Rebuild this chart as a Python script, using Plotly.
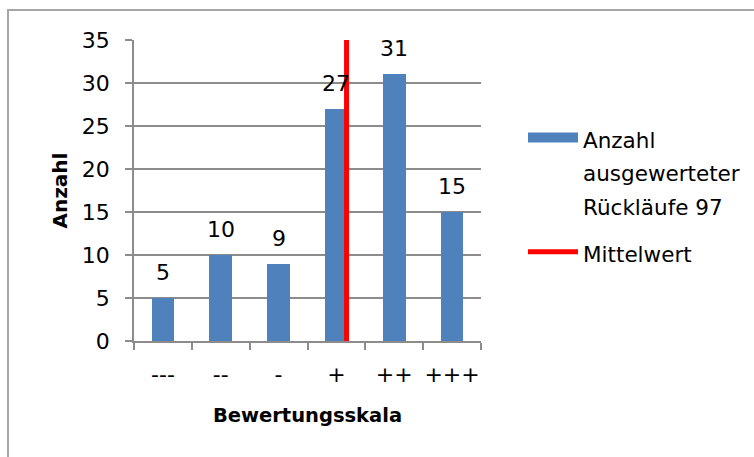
import plotly.graph_objects as go

# ---- data ----
categories = ["---", "--", "-", "+", "++", "+++"]
counts = [5, 10, 9, 27, 31, 15]
scale_values = [1, 2, 3, 4, 5, 6]          # numeric value of each rating
bar_lines = ["Anzahl", "ausgewerteter", "Rückläufe 97"]
mean_name = "Mittelwert"
y_ticks = [0, 5, 10, 15, 20, 25, 30, 35]

# mean of the ratings (weighted by number of returns), as index position
mean_rating = sum(c * v for c, v in zip(counts, scale_values)) / sum(counts)
mean_pos = mean_rating - scale_values[0]

positions = list(range(len(categories)))
boundaries = [p - 0.5 for p in positions] + [positions[-1] + 0.5]

FONT = "DejaVu Sans"
GRID = "#8c8c8c"
BLUE = "#4f81bd"
FS = 22
LEG_FS = 21.5

W, H = 754, 457
L, R, T, B = 134, 273, 40, 116
pw, ph = W - L - R, H - T - B

def px_to_paper_x(px):
    return (px - L) / pw

def px_to_paper_y(py):
    return (H - B - py) / ph

def leg_text(lines):
    return "<br>".join(f"<span style='font-size:{LEG_FS}px'>{t}</span>" for t in lines)

fig = go.Figure()

fig.add_trace(go.Bar(
    x=positions, y=counts, width=0.39,
    marker=dict(color=BLUE, line=dict(width=0)),
    showlegend=False, hoverinfo="skip",
))

# legend proxy for the bar series (wide blue patch)
fig.add_trace(go.Scatter(
    x=[None], y=[None], mode="lines",
    line=dict(color=BLUE, width=16),
    name=leg_text(bar_lines), legendgroup="bars",
))

fig.add_trace(go.Scatter(
    x=[mean_pos, mean_pos], y=[y_ticks[0], y_ticks[-1]], mode="lines",
    line=dict(color="#ff0000", width=5),
    name=leg_text([mean_name]), legendgroup="mean",
))

for p, c in zip(positions, counts):
    fig.add_annotation(
        x=p, y=c, text=str(c), showarrow=False,
        yanchor="bottom", yshift=11,
        font=dict(family=FONT, size=FS, color="#000000"),
    )

# outer chart frame
fig.add_shape(
    type="rect", xref="paper", yref="paper",
    x0=px_to_paper_x(8), x1=px_to_paper_x(770),
    y0=px_to_paper_y(470), y1=px_to_paper_y(10),
    line=dict(color="#a6a6a6", width=2), layer="below",
)

fig.update_layout(
    width=W, height=H,
    margin=dict(l=L, r=R, t=T, b=B, autoexpand=False),
    paper_bgcolor="white", plot_bgcolor="white",
    font=dict(family=FONT, size=FS, color="#000000"),
    bargap=0,
    legend=dict(
        x=px_to_paper_x(523), y=px_to_paper_y(114),
        xanchor="left", yanchor="top", valign="top",
        font=dict(family=FONT, size=26, color="#000000"),
        itemwidth=50, tracegroupgap=10,
        bgcolor="rgba(0,0,0,0)",
    ),
)

fig.update_xaxes(
    range=[boundaries[0], boundaries[-1]],
    tickmode="array", tickvals=positions, ticktext=categories,
    ticks="", showgrid=False, zeroline=False,
    showline=True, linecolor=GRID, linewidth=1.5,
    ticklabelstandoff=13,
    tickfont=dict(family=FONT, size=FS),
    minor=dict(tickmode="array", tickvals=boundaries, ticks="outside",
               ticklen=7, tickwidth=1.5, tickcolor=GRID, showgrid=False),
    title=dict(text="<b>Bewertungsskala</b>", standoff=22,
               font=dict(family=FONT, size=19.5)),
    fixedrange=True,
)

fig.update_yaxes(
    range=[y_ticks[0], y_ticks[-1]],
    tickmode="array", tickvals=y_ticks,
    ticks="outside", ticklen=7, tickwidth=1.5, tickcolor=GRID,
    showgrid=True, gridcolor=GRID, gridwidth=1.5,
    zeroline=False, showline=True, linecolor=GRID, linewidth=1.5,
    ticklabelstandoff=11,
    tickfont=dict(family=FONT, size=FS),
    title=dict(text="<b>Anzahl</b>", standoff=9,
               font=dict(family=FONT, size=20)),
    fixedrange=True,
)

fig.write_html("out.html", config={"displayModeBar": False},
               post_script="document.body.style.margin='0';")
